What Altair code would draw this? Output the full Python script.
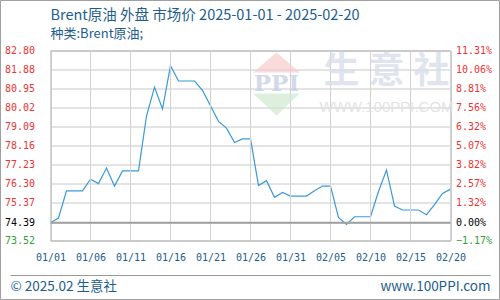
import altair as alt
import pandas as pd

# ---------------- data ----------------
dates = [
    "2025-01-01", "2025-01-02", "2025-01-03", "2025-01-04", "2025-01-05",
    "2025-01-06", "2025-01-07", "2025-01-08", "2025-01-09", "2025-01-10",
    "2025-01-11", "2025-01-12", "2025-01-13", "2025-01-14", "2025-01-15",
    "2025-01-16", "2025-01-17", "2025-01-18", "2025-01-19", "2025-01-20",
    "2025-01-21", "2025-01-22", "2025-01-23", "2025-01-24", "2025-01-25",
    "2025-01-26", "2025-01-27", "2025-01-28", "2025-01-29", "2025-01-30",
    "2025-01-31", "2025-02-01", "2025-02-02", "2025-02-03", "2025-02-04",
    "2025-02-05", "2025-02-06", "2025-02-07", "2025-02-08", "2025-02-09",
    "2025-02-10", "2025-02-11", "2025-02-12", "2025-02-13", "2025-02-14",
    "2025-02-15", "2025-02-16", "2025-02-17", "2025-02-18", "2025-02-19",
    "2025-02-20",
]
prices = [
    74.39, 74.62, 75.94, 75.94, 75.94,
    76.51, 76.30, 77.06, 76.18, 76.92,
    76.92, 76.92, 79.60, 81.01, 79.94,
    82.06, 81.31, 81.31, 81.31, 80.85,
    80.10, 79.34, 79.01, 78.31, 78.48,
    78.48, 76.20, 76.44, 75.63, 75.87,
    75.69, 75.69, 75.69, 75.95, 76.18,
    76.18, 74.65, 74.30, 74.68, 74.68,
    74.68, 75.91, 76.96, 75.20, 75.01,
    75.01, 75.01, 74.78, 75.27, 75.82,
    76.03,
]
base_price = 74.39
y_ticks = [73.52, 74.39, 75.37, 76.30, 77.23, 78.16, 79.09, 80.02, 80.95, 81.88, 82.80]
pct_ticks = [-1.17, 0.00, 1.32, 2.57, 3.82, 5.07, 6.32, 7.56, 8.81, 10.06, 11.31]
x_ticks = ["2025-01-01", "2025-01-06", "2025-01-11", "2025-01-16", "2025-01-21",
           "2025-01-26", "2025-01-31", "2025-02-05", "2025-02-10", "2025-02-15",
           "2025-02-20"]

title_text = "Brent原油 外盘 市场价 2025-01-01 - 2025-02-20"
subtitle_text = "种类:Brent原油;"
footer_left = "© 2025.02 生意社"
footer_right = "www.100PPI.com"
wm_chars = ["生", "意", "社"]
wm_url = "WWW.100PPI.COM"
wm_logo = "PPI"

# ---------------- styles ----------------
BLUE = "#1d5d8d"
RED = "#ee3333"
GREEN = "#33a033"
GRID_V = "#d2d2d2"
GRID_H = "#c8c8c8"
CJK = "Noto Sans CJK SC"
MONO = "DejaVu Sans Mono"


def dt(s):
    y, m, d = (int(v) for v in s.split("-"))
    return alt.DateTime(year=y, month=m, date=d, utc=True)


df = pd.DataFrame({"date": dates, "price": prices})

x_scale = alt.Scale(type="utc", domain=[dt(dates[0]), dt(dates[-1])])
x_axis = alt.Axis(
    values=[dt(s) for s in x_ticks],
    labelExpr="utcFormat(datum.value, '%m/%d')", title=None,
    grid=False, ticks=False, domain=False,
    labelColor=BLUE, labelFont=MONO, labelFontSize=10, labelPadding=12,
    labelFlush=False, labelOverlap=False, labelBound=False,
)

y_scale = alt.Scale(domain=[73.52, 82.80], nice=False, zero=False)
y_enc = alt.Y(
    "price:Q",
    scale=y_scale,
    axis=alt.Axis(
        values=y_ticks, labelExpr="format(datum.value, '.2f')", title=None,
        grid=True, gridColor=GRID_H, gridWidth=1, gridOpacity=1,
        ticks=False, domain=False,
        labelOverlap=False, labelBound=False, labelFlush=False,
        labelFont=MONO, labelFontSize=10, labelPadding=16,
        labelColor={
            "condition": [
                {"test": "datum.value > 74.4", "value": RED},
                {"test": "datum.value < 74.0", "value": GREEN},
            ],
            "value": "#000000",
        },
    ),
)

one = pd.DataFrame({"k": [0]})


def txt(t, x, y, size, color, font=CJK, align="left", weight="normal", opacity=1.0):
    return alt.Chart(pd.DataFrame({"t": [t]})).mark_text(
        font=font, fontSize=size, color=color, align=align, baseline="middle",
        fontWeight=weight, opacity=opacity,
    ).encode(x=alt.value(x), y=alt.value(y), text="t:N")


line = alt.Chart(df).mark_line(color="#3a9ad9", strokeWidth=1.2).encode(
    x=alt.X("date:T", scale=x_scale, axis=x_axis), y=y_enc
)

# vertical grid lines drawn with the same x scale
xgrid = alt.Chart(pd.DataFrame({"date": x_ticks})).mark_rule(
    color=GRID_V, strokeWidth=1
).encode(x=alt.X("date:T", scale=x_scale, axis=x_axis))

# watermark
tri_red = alt.Chart(one).mark_point(
    shape="M-1,0L0,-0.85L1,0Z", size=2209, filled=True, fill="#f6cccc", opacity=0.7, strokeWidth=0
).encode(x=alt.value(226), y=alt.value(22))
tri_green = alt.Chart(one).mark_point(
    shape="M-1,0L0,0.94L1,0Z", size=2209, filled=True, fill="#cfe9cf", opacity=0.7, strokeWidth=0
).encode(x=alt.value(226), y=alt.value(43))
logo_txt = txt(wm_logo, 226, 33, 23, "#c3cde3", font="DejaVu Serif", align="center",
               weight="bold", opacity=0.75)
wm_big = [txt(c, 291 + 45 * i, 21, 36, "#d9deea", align="center", weight="bold", opacity=0.8)
          for i, c in enumerate(wm_chars)]
wm_url_txt = txt(wm_url, 336, 56, 15, "#e2e2e2", font="Liberation Sans", align="center",
                 opacity=0.9)

baseline = alt.Chart(pd.DataFrame({"b": [base_price]})).mark_rule(
    color="#a0a0a0", strokeWidth=2
).encode(y=alt.Y("b:Q", scale=y_scale, axis=None))

title = txt(title_text, 0, -35, 14.5, BLUE)
subtitle = txt(subtitle_text, 0, -17, 13, BLUE)
foot_rule = alt.Chart(one).mark_rule(color="#999999", strokeWidth=1).encode(
    x=alt.value(-40), x2=alt.value(440), y=alt.value(225)
)
foot_l = txt(footer_left, -40, 236, 13.5, BLUE)
foot_r = txt(footer_right, 440, 236, 13.5, BLUE, align="right")
frame = alt.Chart(one).mark_rect(fill="transparent", stroke="#a0a0a0", strokeWidth=1).encode(
    x=alt.value(-50), x2=alt.value(449), y=alt.value(-50), y2=alt.value(249)
)

right = alt.Chart(pd.DataFrame({"pct": pct_ticks})).mark_rule(opacity=0).encode(
    y=alt.Y(
        "pct:Q",
        scale=alt.Scale(domain=[-1.17, 11.31], nice=False, zero=False),
        axis=alt.Axis(
            orient="right", values=pct_ticks, title=None,
            labelExpr="format(datum.value, '.2f') + '%'",
            grid=False, ticks=False, domain=False,
            labelOverlap=False, labelBound=False, labelFlush=False,
            labelFont=MONO, labelFontSize=10, labelPadding=5,
            labelColor={
                "condition": [
                    {"test": "datum.value > 0.001", "value": RED},
                    {"test": "datum.value < -0.001", "value": GREEN},
                ],
                "value": "#000000",
            },
        ),
    )
)

chart = alt.layer(
    line, xgrid,
    tri_red, tri_green, logo_txt, *wm_big, wm_url_txt,
    baseline, right,
    title, subtitle, foot_rule, foot_l, foot_r, frame,
).resolve_scale(
    y="independent"
).properties(
    width=400, height=190,
    autosize=alt.AutoSizeParams(type="none"),
    padding={"left": 50.5, "top": 50.5, "right": 49.5, "bottom": 59.5},
    background="white",
).configure_view(stroke="#999999", strokeWidth=1)

chart.save("out.html", embed_options={"renderer": "svg", "actions": False})
